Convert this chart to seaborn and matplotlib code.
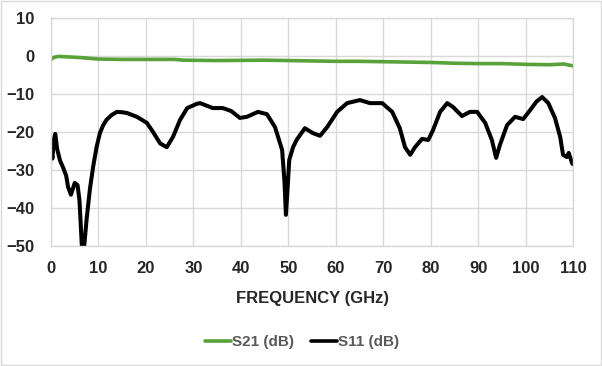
import numpy as np
import pandas as pd
import matplotlib
matplotlib.use("Agg")
import matplotlib.pyplot as plt
import seaborn as sns

# S11 trace (GHz, dB)
s11_freq = [0, 0.3, 0.6, 0.9, 1.3, 1.9, 2.6, 3.2, 3.6, 4.2, 5.0, 5.6, 6.0, 6.5, 7.0, 7.5,
            8.2, 8.9, 9.6, 10.3, 11.0, 11.7, 12.8, 13.9, 15.0, 16.0, 18.1, 20.2, 21.5, 23.0,
            24.4, 25.7, 27.2, 28.7, 30.7, 31.4, 34.1, 36.2, 38.0, 39.8, 41.3, 43.6, 45.5,
            47.2, 48.7, 49.2, 49.5, 49.8, 50.2, 51.0, 51.8, 53.5, 55.2, 56.7, 58.2, 60.3,
            62.4, 65.1, 67.2, 69.8, 71.9, 73.5, 74.6, 75.7, 76.7, 78.2, 79.5, 80.5, 82.0,
            83.5, 84.7, 86.6, 88.3, 89.8, 91.5, 92.9, 93.8, 94.6, 96.1, 97.8, 99.5, 101.0,
            102.3, 103.5, 104.8, 106.2, 107.3, 107.9, 108.7, 109.1, 109.5, 109.8, 110.0]
s11_db = [-25.5, -27, -22, -20.5, -24.5, -27.5, -29.5, -31.5, -34.5, -36.5, -33.4, -34, -38,
          -50, -50, -43, -35, -29, -24, -20.3, -18.2, -16.8, -15.5, -14.7, -14.8, -15, -16,
          -17.6, -20, -23, -24, -21.3, -16.8, -13.7, -12.6, -12.4, -13.7, -13.7, -14.5,
          -16.3, -16, -14.7, -15.3, -18.7, -24.7, -33, -41.8, -36, -27.4, -24, -22, -19,
          -20.3, -21, -18.7, -14.7, -12.4, -11.6, -12.4, -12.4, -14.7, -19, -24, -26, -24,
          -21.8, -22.1, -19.5, -14.7, -12.4, -13.4, -15.8, -14.7, -14.7, -17.6, -22.1,
          -26.8, -23.4, -18.2, -16, -16.6, -14.2, -12, -10.8, -12.4, -16.3, -21.3, -26,
          -26.6, -25.5, -27, -28.2, -28.5]

# S21 trace (GHz, dB)
s21_freq = [0, 0.5, 1.5, 3, 6, 10, 15, 20, 26, 28, 35, 45, 55, 60, 65, 70, 75, 80, 85,
            90, 95, 100, 105, 108, 110]
s21_db = [-1.0, -0.4, -0.1, -0.2, -0.4, -0.8, -0.9, -0.9, -0.9, -1.1, -1.2, -1.1, -1.3,
          -1.4, -1.4, -1.5, -1.6, -1.7, -1.9, -2.0, -2.0, -2.2, -2.3, -2.1, -2.6]

x_ticks = list(range(0, 111, 10))
y_ticks = list(range(-50, 11, 10))

df = pd.concat([
    pd.DataFrame({"freq": s21_freq, "db": s21_db, "trace": "S21 (dB)"}),
    pd.DataFrame({"freq": s11_freq, "db": s11_db, "trace": "S11 (dB)"}),
])

sns.set_style("white")
plt.rcParams["font.family"] = ["Liberation Sans", "DejaVu Sans"]

fig = plt.figure(figsize=(6.02, 3.66), dpi=100)
ax = fig.add_axes([51 / 602, 1 - 246 / 366, 522 / 602, 228 / 366])

sns.lineplot(data=df, x="freq", y="db", hue="trace", sort=False,
             palette={"S21 (dB)": "#58a23a", "S11 (dB)": "#000000"},
             linewidth=2.6, ax=ax, legend=True)
# S11 drawn a bit heavier than S21
ax.lines[1].set_linewidth(2.9)
ax.lines[1].set_solid_joinstyle("round")

ax.set_xlim(0, 110)
ax.set_ylim(-50, 10)
ax.set_xticks(x_ticks)
ax.set_yticks(y_ticks)
ax.grid(True, color="#d9d9d9", linewidth=1)
for s in ax.spines.values():
    s.set_color("#d9d9d9")
    s.set_linewidth(1)
ax.tick_params(axis="x", length=0, labelsize=12, pad=11)
ax.tick_params(axis="y", length=0, labelsize=12, pad=12)
for lab in ax.get_xticklabels() + ax.get_yticklabels():
    lab.set_fontweight("bold")
ax.set_xlabel("")
ax.set_ylabel("")
fig.text(312 / 602, 1 - 298 / 366, "FREQUENCY (GHz)", fontsize=12, fontweight="bold",
         ha="center", va="center")

handles, labels = ax.get_legend_handles_labels()
ax.get_legend().remove()
leg = fig.legend(handles, labels, loc="center", bbox_to_anchor=(302 / 602, 1 - 342 / 366),
                 ncol=2, frameon=False, fontsize=11, handlelength=1.7,
                 handletextpad=0.1, columnspacing=1.1, borderpad=0)
for t in leg.get_texts():
    t.set_color("#595959")
    t.set_fontweight("bold")

fig.patches.append(plt.Rectangle((0.001, 0.002), 0.997, 0.995, transform=fig.transFigure,
                                 fill=False, edgecolor="#d9d9d9", linewidth=1))

fig.savefig("out.png", dpi=100)
